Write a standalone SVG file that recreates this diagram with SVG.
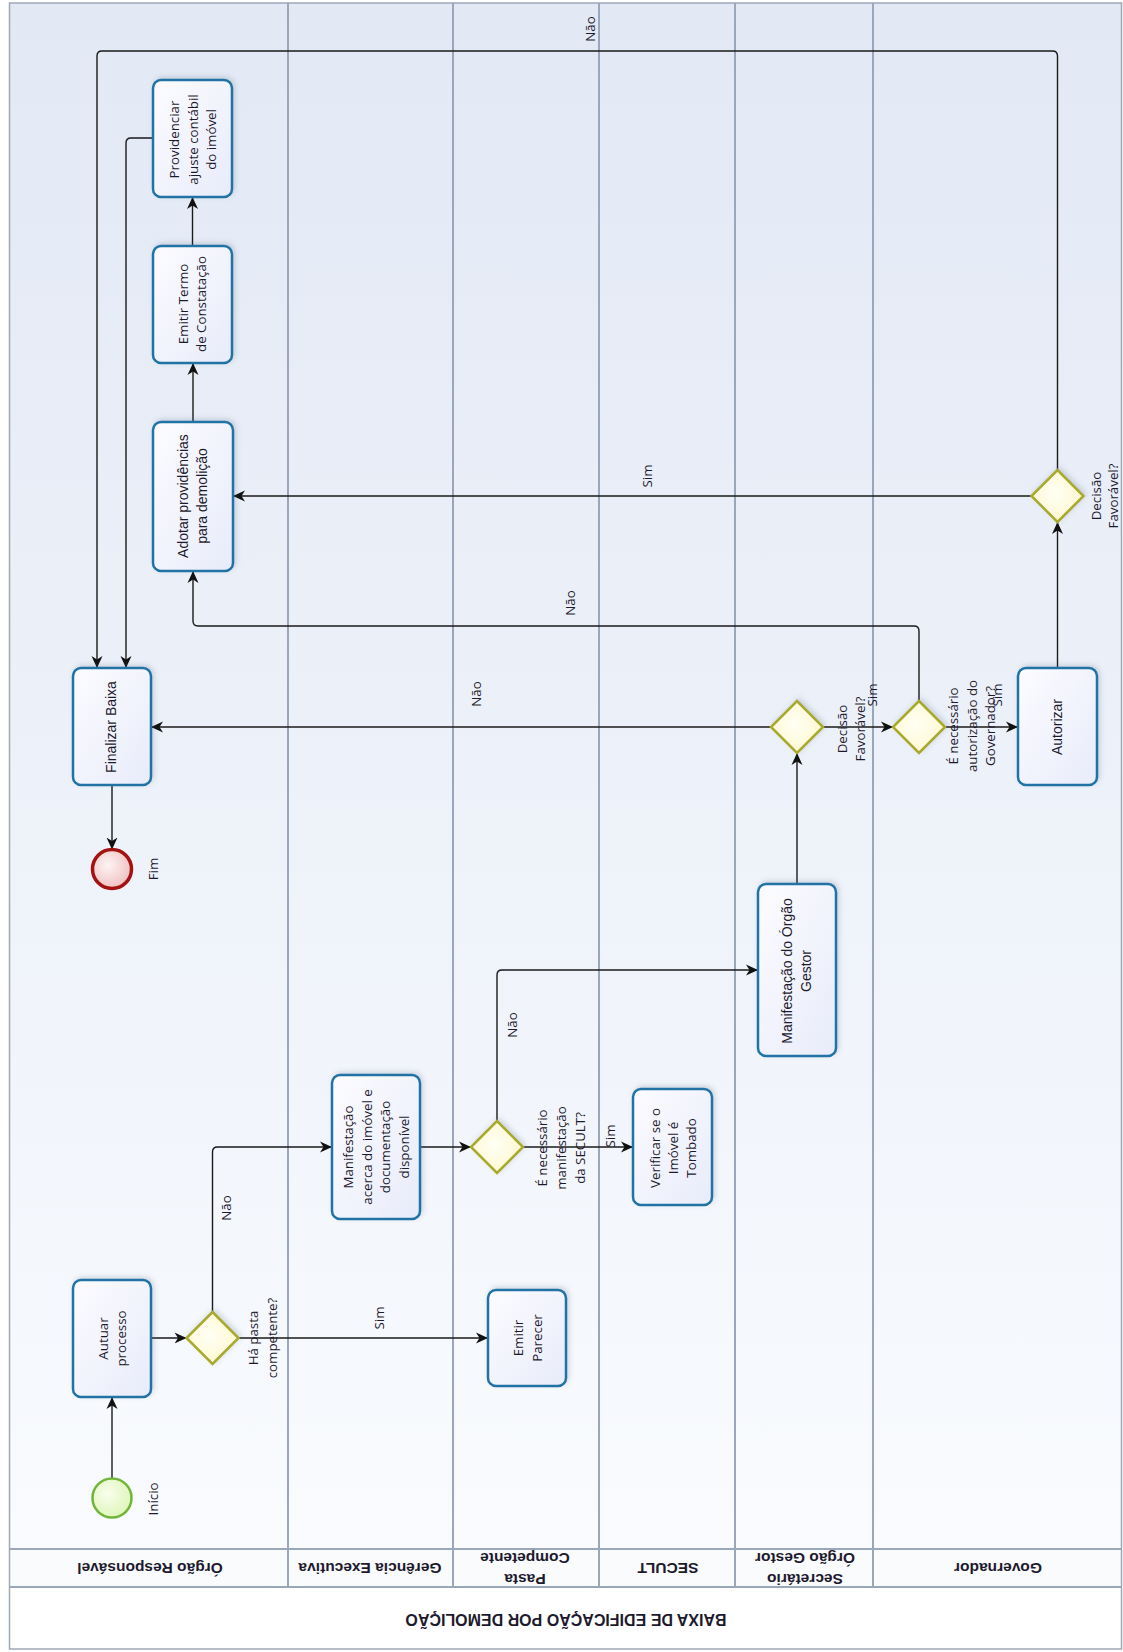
<svg xmlns="http://www.w3.org/2000/svg" width="1123" height="1652" viewBox="0 0 1123 1652">
<defs>
  <linearGradient id="bg" x1="0" y1="0" x2="0" y2="1">
    <stop offset="0" stop-color="#e2e9f5"/>
    <stop offset="0.5" stop-color="#edf1f9"/>
    <stop offset="1" stop-color="#f9fbfe"/>
  </linearGradient>
  <linearGradient id="task" x1="0" y1="0" x2="1" y2="1">
    <stop offset="0" stop-color="#fcfcff"/>
    <stop offset="1" stop-color="#e8ebfa"/>
  </linearGradient>
  <radialGradient id="gw" cx="0.45" cy="0.45" r="0.6">
    <stop offset="0" stop-color="#fffff4"/>
    <stop offset="1" stop-color="#fdf8cf"/>
  </radialGradient>
  <radialGradient id="startG" cx="0.4" cy="0.4" r="0.7">
    <stop offset="0" stop-color="#f8feec"/>
    <stop offset="1" stop-color="#dcf4b4"/>
  </radialGradient>
  <radialGradient id="endG" cx="0.4" cy="0.4" r="0.7">
    <stop offset="0" stop-color="#fdf4f4"/>
    <stop offset="1" stop-color="#efbaba"/>
  </radialGradient>
  <filter id="sh" x="-30%" y="-30%" width="160%" height="160%">
    <feDropShadow dx="2" dy="-2" stdDeviation="2.5" flood-color="#4a5a7a" flood-opacity="0.22"/>
  </filter>
  <marker id="arr" viewBox="0 0 12 12" refX="12" refY="6" markerWidth="12" markerHeight="12" markerUnits="userSpaceOnUse" orient="auto">
    <path d="M0,0.5 L12,6 L0,11.5 L3.5,6 z" fill="#111"/>
  </marker>
  <style>
    .lane-line { stroke:#9aa7ba; stroke-width:2; fill:none; }
    .task { fill:url(#task); stroke:#2273a5; stroke-width:2.5; filter:url(#sh); }
    .gw { fill:url(#gw); stroke:#a9a92c; stroke-width:2.5; filter:url(#sh); }
    .start { fill:url(#startG); stroke:#72b53a; stroke-width:2.5; }
    .end { fill:url(#endG); stroke:#a51212; stroke-width:3.5; }
    .conn { fill:none; stroke:#1a1a1a; stroke-width:1.4; marker-end:url(#arr); }
    text { fill:#1e1a2e; dominant-baseline:central; text-anchor:middle; }
    .t { font-family:"Open Sans","DejaVu Sans",sans-serif; font-size:13.3px; }
    .ta { font-family:"Liberation Sans",Arial,sans-serif; font-size:14px; }
    .lbl { font-family:"Open Sans","DejaVu Sans",sans-serif; font-size:13.3px; }
    .lane { font-family:"Liberation Sans",Arial,sans-serif; font-size:15.5px; font-weight:bold; }
    .title { font-family:"Liberation Sans",Arial,sans-serif; font-size:16px; font-weight:bold; }
  </style>
</defs>

<!-- pool background and lanes -->
<g id="pool">
  <rect x="9.5" y="3" width="1112" height="1546" fill="url(#bg)"/>
  <rect x="9.5" y="1549" width="1112" height="38" fill="#fafbfd"/>
  <rect x="9.5" y="1587" width="1112" height="62" fill="#ffffff"/>
  <line class="lane-line" x1="288" y1="3" x2="288" y2="1587"/>
  <line class="lane-line" x1="453" y1="3" x2="453" y2="1587"/>
  <line class="lane-line" x1="599" y1="3" x2="599" y2="1587"/>
  <line class="lane-line" x1="735" y1="3" x2="735" y2="1587"/>
  <line class="lane-line" x1="873" y1="3" x2="873" y2="1587"/>
  <line class="lane-line" x1="9.5" y1="1549" x2="1121.5" y2="1549"/>
  <line class="lane-line" x1="9.5" y1="1587" x2="1121.5" y2="1587"/>
  <rect x="9.5" y="3" width="1112" height="1646" fill="none" stroke="#9ea8b6" stroke-width="1.5"/>
  <text class="lane" transform="translate(150,1568) rotate(180)">Órgão Responsável</text>
  <text class="lane" transform="translate(370,1568) rotate(180)">Gerência Executiva</text>
  <text class="lane" transform="translate(525,1569) rotate(180)"><tspan x="0" y="-10.5">Pasta</tspan><tspan x="0" y="10.5">Competente</tspan></text>
  <text class="lane" transform="translate(668,1568) rotate(180)">SECULT</text>
  <text class="lane" transform="translate(805,1569) rotate(180)"><tspan x="0" y="-10.5">Secretário</tspan><tspan x="0" y="10.5">Órgão Gestor</tspan></text>
  <text class="lane" transform="translate(998,1568) rotate(180)">Governador</text>
  <text class="title" transform="translate(566,1619) rotate(180)">BAIXA DE EDIFICAÇÃO POR DEMOLIÇÃO</text>
</g>

<!-- connectors -->
<g id="connectors">
  <path class="conn" d="M112,1478 V1397"/>
  <path class="conn" d="M151,1338 H186.5"/>
  <path class="conn" d="M238.5,1338 H488"/>
  <path class="conn" d="M212.5,1312 V1152 Q212.5,1147 217.5,1147 H332"/>
  <path class="conn" d="M420,1147 H471"/>
  <path class="conn" d="M523,1147 H633"/>
  <path class="conn" d="M497,1121 V975 Q497,970 502,970 H758"/>
  <path class="conn" d="M797,884 V753"/>
  <path class="conn" d="M823,727 H893"/>
  <path class="conn" d="M771,727 H151"/>
  <path class="conn" d="M945,727 H1018"/>
  <path class="conn" d="M919,701 V631 Q919,626 914,626 H198 Q193,626 193,621 V571"/>
  <path class="conn" d="M1057.5,668 V522"/>
  <path class="conn" d="M1031.5,496 H233"/>
  <path class="conn" d="M1057.5,470 V56 Q1057.5,51 1052.5,51 H102 Q97,51 97,56 V668"/>
  <path class="conn" d="M193,422 V363"/>
  <path class="conn" d="M192.5,246 V197"/>
  <path class="conn" d="M153,138 H131 Q126,138 126,143 V668"/>
  <path class="conn" d="M112,785 V849.5"/>
  <text class="lbl" transform="translate(379,1318) rotate(-90)">Sim</text>
  <text class="lbl" transform="translate(226,1208) rotate(-90)">Não</text>
  <text class="lbl" transform="translate(512,1025) rotate(-90)">Não</text>
  <text class="lbl" transform="translate(610,1136) rotate(-90)">Sim</text>
  <text class="lbl" transform="translate(476,694) rotate(-90)">Não</text>
  <text class="lbl" transform="translate(872,695) rotate(-90)">Sim</text>
  <text class="lbl" transform="translate(997,695) rotate(-90)">Sim</text>
  <text class="lbl" transform="translate(570,603) rotate(-90)">Não</text>
  <text class="lbl" transform="translate(647,476) rotate(-90)">Sim</text>
  <text class="lbl" transform="translate(590,29) rotate(-90)">Não</text>
</g>

<!-- nodes -->
<g id="n-inicio">
  <circle class="start" cx="112" cy="1498" r="19.5"/>
  <text class="t" transform="translate(153,1499) rotate(-90)">Início</text>
</g>
<g id="n-autuar">
  <rect class="task" x="73" y="1280" width="78" height="117" rx="8"/>
  <text class="t" transform="translate(112,1338.5) rotate(-90)"><tspan x="0" y="-8.7">Autuar</tspan><tspan x="0" y="8.7">processo</tspan></text>
</g>
<g id="n-gw1">
  <polygon class="gw" points="212.5,1312 238.5,1338 212.5,1364 186.5,1338"/>
  <text class="lbl" transform="translate(262.5,1338) rotate(-90)"><tspan x="0" y="-9.7">Há pasta</tspan><tspan x="0" y="9.7">competente?</tspan></text>
</g>
<g id="n-parecer">
  <rect class="task" x="488" y="1290" width="78" height="96" rx="8"/>
  <text class="t" transform="translate(527,1338) rotate(-90)"><tspan x="0" y="-9.5">Emitir</tspan><tspan x="0" y="9.5">Parecer</tspan></text>
</g>
<g id="n-manif">
  <rect class="task" x="332" y="1075" width="88" height="144" rx="8"/>
  <text class="t" transform="translate(376,1147) rotate(-90)"><tspan x="0" y="-28">Manifestação</tspan><tspan x="0" y="-9.3">acerca do imóvel e</tspan><tspan x="0" y="9.3">documentação</tspan><tspan x="0" y="28">disponível</tspan></text>
</g>
<g id="n-gw2">
  <polygon class="gw" points="497,1121 523,1147 497,1173 471,1147"/>
  <text class="lbl" transform="translate(561,1148) rotate(-90)"><tspan x="0" y="-19">É necessário</tspan><tspan x="0" y="0">manifestação</tspan><tspan x="0" y="19">da SECULT?</tspan></text>
</g>
<g id="n-verificar">
  <rect class="task" x="633" y="1089" width="79" height="116" rx="8"/>
  <text class="t" transform="translate(673,1148) rotate(-90)"><tspan x="0" y="-18">Verificar se o</tspan><tspan x="0" y="0">Imóvel é</tspan><tspan x="0" y="18">Tombado</tspan></text>
</g>
<g id="n-mog">
  <rect class="task" x="758" y="884" width="78" height="172" rx="8"/>
  <text class="ta" transform="translate(796.5,971) rotate(-90)"><tspan x="0" y="-9.3">Manifestação do Órgão</tspan><tspan x="0" y="9.3">Gestor</tspan></text>
</g>
<g id="n-gw3">
  <polygon class="gw" points="797,701 823,727 797,753 771,727"/>
  <text class="lbl" transform="translate(851,729) rotate(-90)"><tspan x="0" y="-9">Decisão</tspan><tspan x="0" y="9">Favorável?</tspan></text>
</g>
<g id="n-gw4">
  <polygon class="gw" points="919,701 945,727 919,753 893,727"/>
  <text class="lbl" transform="translate(971.5,726) rotate(-90)"><tspan x="0" y="-18.5">É necessário</tspan><tspan x="0" y="0">autorização do</tspan><tspan x="0" y="18.5">Governador?</tspan></text>
</g>
<g id="n-autorizar">
  <rect class="task" x="1018" y="668" width="79" height="117" rx="8"/>
  <text class="ta" transform="translate(1057,727) rotate(-90)">Autorizar</text>
</g>
<g id="n-gw5">
  <polygon class="gw" points="1057.5,470 1083.5,496 1057.5,522 1031.5,496"/>
  <text class="lbl" transform="translate(1104.5,496) rotate(-90)"><tspan x="0" y="-8.7">Decisão</tspan><tspan x="0" y="8.7">Favorável?</tspan></text>
</g>
<g id="n-adotar">
  <rect class="task" x="153" y="422" width="80" height="149" rx="8"/>
  <text class="ta" transform="translate(192.5,496) rotate(-90)"><tspan x="0" y="-9.2">Adotar providências</tspan><tspan x="0" y="9.2">para demolição</tspan></text>
</g>
<g id="n-termo">
  <rect class="task" x="153" y="246" width="79" height="117" rx="8"/>
  <text class="t" transform="translate(192,304) rotate(-90)"><tspan x="0" y="-9">Emitir Termo</tspan><tspan x="0" y="9">de Constatação</tspan></text>
</g>
<g id="n-providenciar">
  <rect class="task" x="153" y="80" width="79" height="117" rx="8"/>
  <text class="t" transform="translate(192.5,139.5) rotate(-90)"><tspan x="0" y="-18.5">Providenciar</tspan><tspan x="0" y="0">ajuste contábil</tspan><tspan x="0" y="18.5">do imóvel</tspan></text>
</g>
<g id="n-finalizar">
  <rect class="task" x="73" y="668" width="78" height="117" rx="8"/>
  <text class="ta" transform="translate(111,727) rotate(-90)">Finalizar Baixa</text>
</g>
<g id="n-fim">
  <circle class="end" cx="112" cy="869" r="19.5"/>
  <text class="t" transform="translate(153,869) rotate(-90)">Fim</text>
</g>
</svg>
